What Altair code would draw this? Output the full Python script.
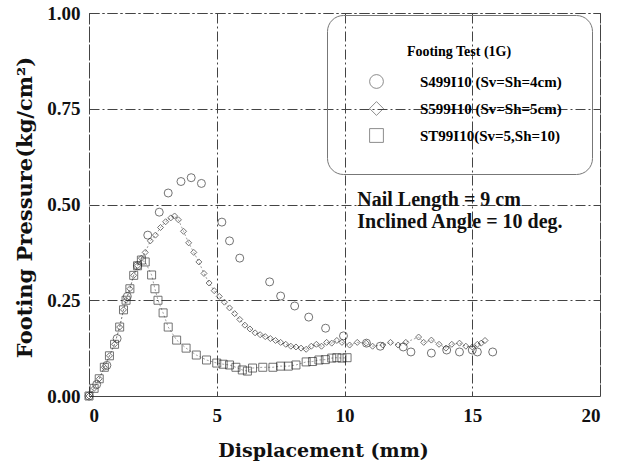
import altair as alt
import pandas as pd

SERIES = ["S499I10 (Sv=Sh=4cm)", "S599I10 (Sv=Sh=5cm)", "ST99I10(Sv=5,Sh=10)"]

# circles: S499I10
S4_X = [0.0, 0.3, 0.7, 1.1, 1.5, 1.9, 2.3, 2.75, 3.1, 3.6, 4.0, 4.4, 5.2, 5.5, 5.9,
        7.07, 7.5, 8.05, 8.6, 9.26, 9.96, 10.86, 11.4, 12.3, 12.6, 13.4, 14.0, 14.5,
        15.0, 15.2, 15.8]
S4_Y = [0.0, 0.03, 0.08, 0.15, 0.26, 0.34, 0.42, 0.48, 0.53, 0.56, 0.57, 0.555, 0.454, 0.405,
        0.36, 0.298, 0.261, 0.235, 0.206, 0.177, 0.157, 0.138, 0.13, 0.128, 0.115, 0.112,
        0.12, 0.115, 0.12, 0.115, 0.115]

# diamonds: S599I10
S5_X = [0.0, 0.2, 0.4, 0.6, 0.8, 1.0, 1.2, 1.35, 1.45, 1.6, 1.75, 1.9, 2.05, 2.2, 2.4, 2.6,
        2.8, 3.0, 3.2, 3.35, 3.5, 3.7, 3.9, 4.1, 4.3, 4.5, 4.7, 4.9, 5.1, 5.3, 5.5, 5.7,
        5.9, 6.1, 6.3, 6.5, 6.7, 6.9, 7.1, 7.3, 7.5, 7.7, 7.9, 8.1, 8.3, 8.5, 8.7, 8.9,
        9.1, 9.3, 9.5, 9.7, 9.9, 10.2, 10.5, 10.85, 11.1, 11.5, 11.8, 12.1, 12.4, 12.9,
        13.1, 13.4, 13.7, 13.97, 14.2, 14.5, 14.75, 15.0, 15.2, 15.35, 15.5]
S5_Y = [0.0, 0.02, 0.045, 0.075, 0.105, 0.135, 0.18, 0.225, 0.25, 0.28, 0.315, 0.34, 0.36,
        0.375, 0.405, 0.42, 0.44, 0.455, 0.465, 0.47, 0.46, 0.43, 0.40, 0.375, 0.35, 0.32,
        0.295, 0.275, 0.26, 0.245, 0.23, 0.215, 0.20, 0.185, 0.175, 0.165, 0.16, 0.155,
        0.15, 0.145, 0.14, 0.135, 0.13, 0.128, 0.125, 0.122, 0.13, 0.135, 0.13, 0.14,
        0.138, 0.145, 0.14, 0.133, 0.14, 0.138, 0.13, 0.133, 0.14, 0.133, 0.14, 0.154,
        0.14, 0.146, 0.135, 0.125, 0.135, 0.138, 0.13, 0.128, 0.135, 0.138, 0.145]

# squares: ST99I10
ST_X = [0.0, 0.2, 0.4, 0.6, 0.8, 1.0, 1.2, 1.35, 1.45, 1.6, 1.75, 1.9, 2.05, 2.2, 2.45,
        2.58, 2.7, 2.9, 3.1, 3.43, 3.8, 4.2, 4.6, 5.0, 5.25, 5.5, 5.75, 6.0, 6.2, 6.4, 6.8,
        7.2, 7.5, 7.8, 8.1, 8.5, 8.75, 9.0, 9.25, 9.5, 9.7, 9.9, 10.1]
ST_Y = [0.0, 0.02, 0.045, 0.075, 0.105, 0.135, 0.18, 0.225, 0.25, 0.28, 0.315, 0.34, 0.355,
        0.35, 0.316, 0.28, 0.25, 0.217, 0.18, 0.146, 0.125, 0.107, 0.094, 0.086, 0.083,
        0.081, 0.075, 0.068, 0.065, 0.073, 0.075, 0.075, 0.078, 0.078, 0.081, 0.089, 0.09,
        0.094, 0.095, 0.099, 0.1, 0.099, 0.1]

ANNOT_X = [10.5, 10.5]
ANNOT_Y = [0.512, 0.454]
ANNOT_TEXT = ["Nail Length = 9 cm", "Inclined Angle = 10 deg."]

rows = []
for name, xs, ys in zip(SERIES, [S4_X, S5_X, ST_X], [S4_Y, S5_Y, ST_Y]):
    for a, b in zip(xs, ys):
        rows.append({"series": name, "x": a, "y": b})
df = pd.DataFrame(rows)
annot = pd.DataFrame({"x": ANNOT_X, "y": ANNOT_Y, "t": ANNOT_TEXT})

SERIF = "Liberation Serif"
TITLE_FONT = "DejaVu Serif"
xenc = alt.X("x:Q", scale=alt.Scale(domain=[0, 20], nice=False),
             axis=alt.Axis(values=[0, 5, 10, 15, 20], title="Displacement (mm)",
                           titleX=234, titleY=54, titleBaseline="middle", titleFontSize=19))
yenc = alt.Y("y:Q", scale=alt.Scale(domain=[0, 1], nice=False),
             axis=alt.Axis(values=[0, 0.25, 0.5, 0.75, 1.0], format=".2f",
                           title="Footing Pressure(kg/cm²)",
                           titleX=-64, titleY=194, titleBaseline="middle", titleFontSize=21))

shape_scale = alt.Scale(domain=SERIES, range=["circle", "diamond", "square"])

lines = alt.Chart(df).transform_filter(
    alt.datum.series != SERIES[0]
).mark_line(strokeDash=[2, 2], strokeWidth=0.7, color="#777").encode(
    x=xenc, y=yenc, detail="series:N", order="x:Q"
)

legend = alt.Legend(title="Footing Test (1G)", orient="none", legendX=238, legendY=2,
                    titleAnchor="middle", titleFont=SERIF, titleFontSize=14,
                    titleFontWeight="bold", labelFont=SERIF, labelFontSize=15,
                    labelFontWeight="bold", labelOffset=36, symbolSize=190,
                    symbolStrokeWidth=0.8, symbolStrokeColor="#333", symbolFillColor="white",
                    padding=30, rowPadding=10, titlePadding=15, strokeColor="#777",
                    cornerRadius=16, symbolOffset=12)

def pts(name, size):
    return alt.Chart(df).transform_filter(alt.datum.series == name).mark_point(
        filled=False, size=size, color="#222", strokeWidth=0.9
    ).encode(
        x=xenc, y=yenc,
        shape=alt.Shape("series:N", scale=shape_scale, legend=legend),
    )

text = alt.Chart(annot).mark_text(align="left", baseline="middle", font=SERIF,
                                  fontSize=20, fontWeight="bold", color="#111").encode(
    x="x:Q", y="y:Q", text="t:N"
)

chart = alt.layer(lines, pts(SERIES[0], 64), pts(SERIES[1], 36), pts(SERIES[2], 64), text).properties(
    width=511, height=383,
    autosize=alt.AutoSizeParams(type="none"),
    padding={"left": 89, "top": 13, "right": 19, "bottom": 72},
).configure_view(
    stroke="#444", strokeDash=[10, 3, 2, 3], strokeWidth=1
).configure_axis(
    grid=True, gridColor="#444", gridDash=[10, 3, 2, 3], gridWidth=1,
    domain=False, ticks=False, labelFont=SERIF, labelFontWeight="bold",
    labelFontSize=19, labelColor="#111", titleFont=TITLE_FONT, titleFontWeight="bold",
    titleColor="#111"
).configure_axisX(labelPadding=10).configure_axisY(labelPadding=9)

chart.save("out.html", embed_options={"renderer": "svg", "actions": False})
